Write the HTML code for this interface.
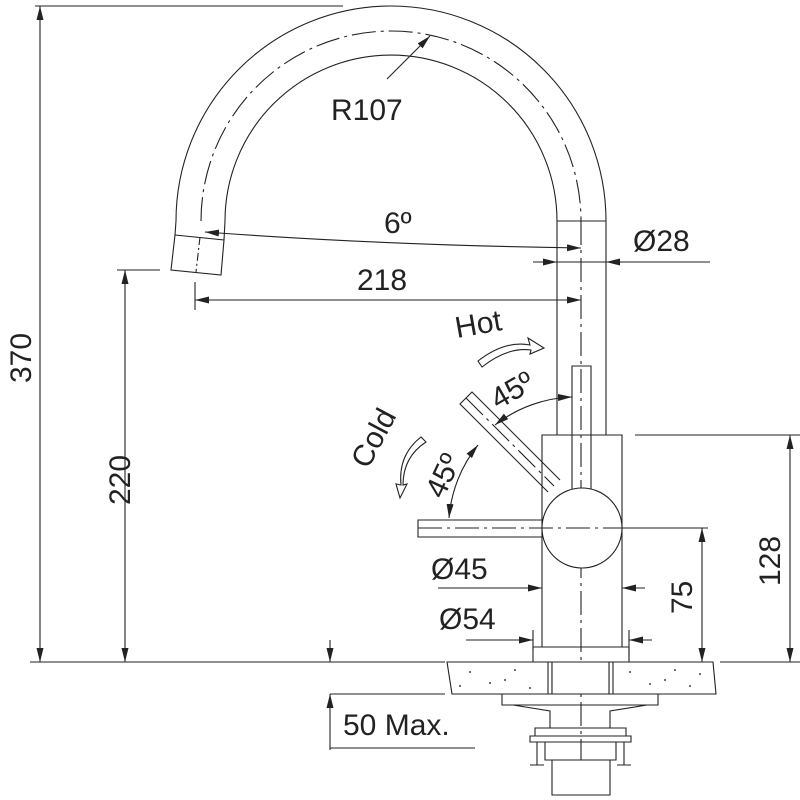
<!DOCTYPE html>
<html><head><style>body{margin:0;background:#fff}svg{display:block}text{font-family:"Liberation Sans",sans-serif;fill:#222}</style></head><body>
<svg width="800" height="800" viewBox="0 0 800 800" xmlns="http://www.w3.org/2000/svg">
<defs>
<marker id="a" viewBox="0 0 14 7" refX="14" refY="3.5" markerWidth="14" markerHeight="7" orient="auto-start-reverse" markerUnits="userSpaceOnUse"><path d="M0,0L14,3.5L0,7z" fill="#222"/></marker>
</defs>
<g stroke="#222" stroke-width="1.1" fill="none">
<path d="M176,221 A215,215 0 0 1 606,221 L606,435"/>
<path d="M225,221 A166,166 0 0 1 557,221 L557,435"/>
<path d="M201,221 A190,190 0 0 1 581,221" stroke-dasharray="24,5,3,5"/>
<path d="M176,221 L175,235 M225,221 L224,240"/>
<path d="M175,235 L224,240 L221,275 L171,270 Z"/>
<path d="M200,237 L196,272" stroke-dasharray="8,3,2,3"/>
<path d="M557,221 H606"/>
<path d="M581,221 V760" stroke-dasharray="24,5,3,5"/>
<path d="M387,79 L430,36" marker-end="url(#a)"/>
<path d="M35,6 H343"/>
<path d="M40,6 V662" marker-start="url(#a)" marker-end="url(#a)"/>
<path d="M117,270 H160"/>
<path d="M125,270 V662" marker-start="url(#a)" marker-end="url(#a)"/>
<path d="M30,662 H445 M720,662 H800"/>
<path d="M205,232 Q380,245 581,248" marker-start="url(#a)" marker-end="url(#a)"/>
<path d="M195,282 V310"/>
<path d="M195,300 H581" marker-start="url(#a)" marker-end="url(#a)"/>
<path d="M533,262 H557" marker-end="url(#a)"/>
<path d="M710,262 H606" marker-end="url(#a)"/>
<path d="M557,262 H606"/>
<path d="M572,495 V366 H591 V495"/>
<path d="M542,435 H622 V647 H542 Z"/>
<path d="M533,647 H629 V662 H533 Z"/>
<circle cx="582" cy="528" r="40" fill="#fff"/>
<path d="M542,520 H418 V537 H542"/>
<path d="M418,528 H700" stroke-dasharray="24,5,3,5"/>
<path d="M548,492 L460,404 L472,392 L560,480"/>
<path d="M466,398 L554,486" stroke-dasharray="24,5,3,5"/>
<path d="M495,425 A133,133 0 0 1 572,397" marker-start="url(#a)" marker-end="url(#a)"/>
<path d="M449,518 A133,133 0 0 1 478,445" marker-start="url(#a)" marker-end="url(#a)"/>
<path d="M478,361 Q505,340 530,345 L528,338 L544,348 L530,354 L531,350 Q507,347 482,367 Z"/>
<path d="M421,437 Q398,455 401,485 L396,484 L400,498 L407,484 L403,485 Q403,457 426,442 Z"/>
<path d="M635,435 H800"/>
<path d="M790,435 V662" marker-start="url(#a)" marker-end="url(#a)"/>
<path d="M625,528 H708"/>
<path d="M702,528 V662" marker-start="url(#a)" marker-end="url(#a)"/>
<path d="M438,588 H542" marker-end="url(#a)"/>
<path d="M645,588 H622" marker-end="url(#a)"/>
<path d="M533,630 V650 M629,630 V660"/>
<path d="M466,640 H533" marker-end="url(#a)"/>
<path d="M652,640 H629" marker-end="url(#a)"/>
<path d="M447,662 H713 L716,694 H452 Z" fill="#fff"/>
<path d="M548,662 V694 M552,662 V694 M609,662 V694 M613,662 V694"/>
<path d="M552,662 H609 V694 H552Z" fill="#fff"/>
<path d="M502,694 V705 H658 V694"/>
<path d="M513,705 L550,711 V728 M647,705 L610,711 V728"/>
<path d="M535,728 H626 V736 H535 Z M530,736 H631 V742 H530 Z"/>
<path d="M545,742 V760 H616 V742"/>
<path d="M552,760 V795 H610 V760"/>
<path d="M537,742 V765 M624,742 V765"/>
<path d="M530,765 H544 M617,765 H631"/>
<path d="M330,640 V662" marker-end="url(#a)"/>
<path d="M330,750 V694" marker-end="url(#a)"/>
<path d="M330,694 H445"/>
<path d="M330,748 H475"/>
</g>
<g fill="#444">
<circle cx="470" cy="672" r="1"/><circle cx="490" cy="683" r="1"/><circle cx="515" cy="670" r="1"/><circle cx="530" cy="688" r="1"/><circle cx="460" cy="686" r="1"/><circle cx="505" cy="680" r="1"/>
<circle cx="630" cy="672" r="1"/><circle cx="650" cy="684" r="1"/><circle cx="675" cy="670" r="1"/><circle cx="690" cy="686" r="1"/><circle cx="700" cy="674" r="1"/><circle cx="665" cy="680" r="1"/>
</g>
<g font-size="30">
<text x="331" y="120">R107</text>
<text x="384" y="233">6º</text>
<text x="357" y="290">218</text>
<text x="633" y="251">Ø28</text>
<text x="431" y="579">Ø45</text>
<text x="439" y="629">Ø54</text>
<text x="343" y="735">50 Max.</text>
<text transform="translate(31,383) rotate(-90)">370</text>
<text transform="translate(130,505) rotate(-90)">220</text>
<text transform="translate(780,586) rotate(-90)">128</text>
<text transform="translate(692,614) rotate(-90)">75</text>
<text transform="translate(457,338) rotate(-10)">Hot</text>
<text transform="translate(368,470) rotate(-62)">Cold</text>
<text transform="translate(498,410) rotate(-30)">45º</text>
<text transform="translate(443,500) rotate(-65)">45º</text>
</g>
</svg>
</body></html>
